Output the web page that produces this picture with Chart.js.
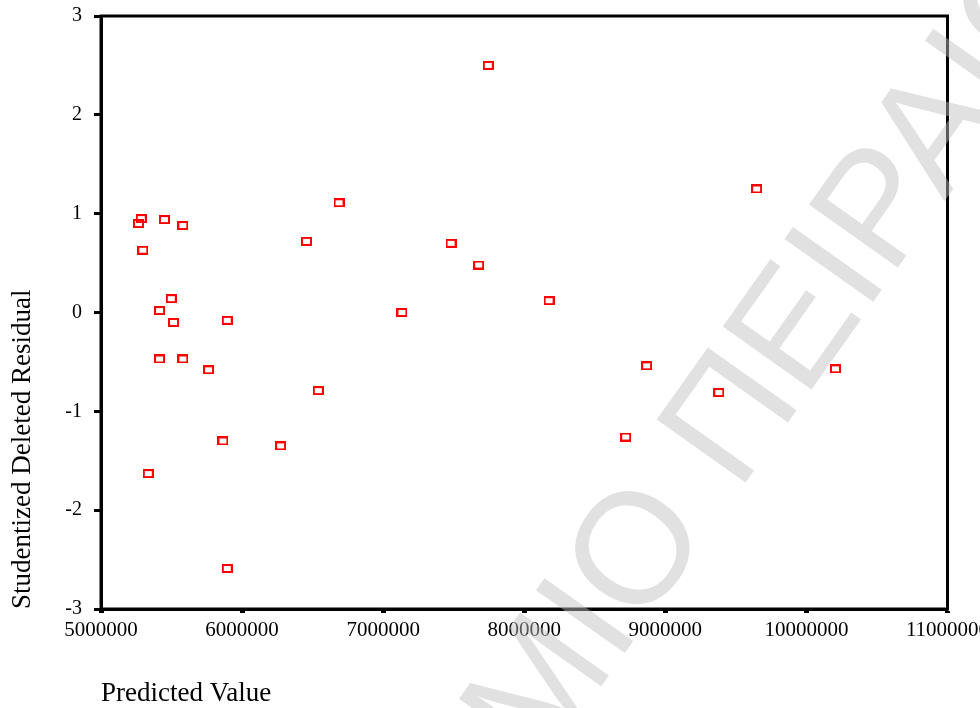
<!DOCTYPE html>
<html>
<head>
<meta charset="utf-8">
<script src="https://cdn.jsdelivr.net/npm/chart.js@4"></script>
<style>
  html, body { margin: 0; padding: 0; background: #fff; }
  #wrap { width: 980px; height: 708px; }
</style>
</head>
<body>
<div id="wrap"><canvas id="residuals" width="980" height="708"></canvas></div>
<script>
// predicted value vs studentized deleted residual, one point per case
const predicted = [
  5285000, 5266000, 5450000, 5580000, 5296000, 5498000, 5415000, 5514000,
  5895000, 5415000, 5580000, 5762000, 5864000, 5335000, 5895000, 6273000,
  6687000, 6457000, 7481000, 7677000, 8176000, 7133000, 6540000, 7745000,
  9647000, 8867000, 9379000, 8719000, 10206000
];
const residuals = [
  0.95, 0.90, 0.94, 0.88, 0.63, 0.14, 0.02, -0.10,
  -0.08, -0.47, -0.47, -0.58, -1.30, -1.63, -2.59, -1.35,
  1.11, 0.72, 0.70, 0.48, 0.12, 0.00, -0.79, 2.50,
  1.25, -0.54, -0.81, -1.26, -0.57
];
const xTicks = [5000000, 6000000, 7000000, 8000000, 9000000, 10000000, 11000000];
const yTicks = [-3, -2, -1, 0, 1, 2, 3];
const xTitle = 'Predicted Value';
const yTitle = 'Studentized Deleted Residual';
const watermark = 'ΠΑΝΕΠΙΣΤΗΜΙΟ ΠΕΙΡΑΙΩΣ';

const serif = "'Liberation Serif', 'Times New Roman', serif";

// small hollow red rectangle used as the marker
const marker = document.createElement('canvas');
marker.width = 11;
marker.height = 9;
(() => {
  const m = marker.getContext('2d');
  m.strokeStyle = '#ff0000';
  m.lineWidth = 2;
  m.strokeRect(1, 1, 9, 7);
})();

const points = predicted.map((x, i) => ({ x: x, y: residuals[i] }));

// box around the plot area, then the faint diagonal stamp on top
const framePlugin = {
  id: 'frame',
  afterDraw(chart) {
    const { ctx, chartArea: a } = chart;
    ctx.save();
    ctx.strokeStyle = '#000';
    ctx.lineWidth = 3;
    ctx.strokeRect(a.left, a.top, a.right - a.left, a.bottom - a.top);
    ctx.restore();

    ctx.save();
    ctx.font = "158px 'Liberation Sans', Arial, sans-serif";
    ctx.fillStyle = 'rgba(192,192,192,0.47)';
    const lead = ctx.measureText('ΠΑΝΕΠΙΣΤΗΜΙΟ ').width;
    ctx.translate(738, 493);
    ctx.rotate(-54.7 * Math.PI / 180);
    ctx.fillText(watermark, -lead, 0);
    ctx.restore();
  }
};

new Chart(document.getElementById('residuals'), {
  type: 'scatter',
  data: {
    datasets: [{
      data: points,
      pointStyle: marker,
      pointRadius: 6,
      pointHoverRadius: 6
    }]
  },
  options: {
    responsive: false,
    animation: false,
    layout: { padding: { left: 0, top: 16, right: 32.5, bottom: 0 } },
    plugins: { legend: { display: false }, tooltip: { enabled: false } },
    scales: {
      x: {
        type: 'linear',
        min: xTicks[0],
        max: xTicks[xTicks.length - 1],
        afterBuildTicks: s => { s.ticks = xTicks.map(v => ({ value: v })); },
        afterFit: s => { s.height = 99; s.paddingLeft = 0; s.paddingRight = 0; },
        border: { display: true, color: '#000', width: 3 },
        grid: { display: true, drawOnChartArea: false, drawTicks: true, tickLength: 4, tickWidth: 5, tickColor: '#000' },
        ticks: {
          padding: 5,
          maxRotation: 0,
          autoSkip: false,
          color: '#000',
          font: { family: serif, size: 21 },
          callback: v => String(v)
        },
        title: {
          display: true,
          text: xTitle,
          align: 'start',
          color: '#000',
          padding: { top: 0, bottom: 1 },
          font: { family: serif, size: 27, lineHeight: 1.0 }
        }
      },
      y: {
        type: 'linear',
        min: yTicks[0],
        max: yTicks[yTicks.length - 1],
        afterBuildTicks: s => { s.ticks = yTicks.map(v => ({ value: v })); },
        afterFit: s => { s.width = 101; s.paddingTop = 0; s.paddingBottom = 0; },
        border: { display: true, color: '#000', width: 3 },
        grid: { display: true, drawOnChartArea: false, drawTicks: true, tickLength: 7, tickWidth: 3, tickColor: '#000' },
        ticks: {
          padding: 12,
          color: '#000',
          font: { family: serif, size: 20 },
          callback: v => String(v)
        },
        title: {
          display: true,
          text: yTitle,
          align: 'start',
          color: '#000',
          padding: { top: 7, bottom: 0 },
          font: { family: serif, size: 27, lineHeight: 1.2 }
        }
      }
    }
  },
  plugins: [framePlugin]
});
</script>
</body>
</html>
